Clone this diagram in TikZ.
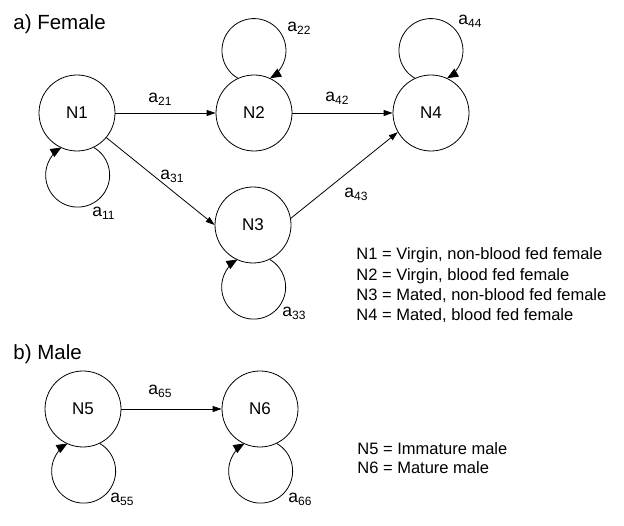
\documentclass[tikz,border=0pt]{standalone}
\usepackage{fontspec}
\setmainfont{Liberation Sans}
\usetikzlibrary{arrows.meta}
\newcommand{\rate}[1]{a\raisebox{-0.3ex}{\fontsize{12}{12}\selectfont #1}}

\tikzset{
    state/.style={draw,circle,minimum size=76pt,inner sep=0pt,font=\fontsize{17}{17}\selectfont},
    trans/.style={-{Triangle[length=9pt,width=6pt]}},
    selfloop/.style={-{Triangle[length=11pt,width=9pt]}},
    ratelabel/.style={anchor=base west,inner sep=0pt,font=\fontsize{17.5}{17.5}\selectfont},
    legend/.style={anchor=base west,inner sep=0pt,font=\fontsize{16.5}{16.5}\selectfont},
    heading/.style={anchor=base west,inner sep=0pt,font=\fontsize{20.5}{20.5}\selectfont}
}

\begin{document}
\begin{tikzpicture}[x=1pt,y=1pt,line width=0.8pt]
    \useasboundingbox (0,0) rectangle (624,526);

    % female
    \node [heading] (fem) at (13,496) {a) Female};
    \node [state] (n1) at (77,413) {N1};
    \node [state] (n2) at (254,413) {N2};
    \node [state] (n4) at (431,413) {N4};
    \node [state] (n3) at (253,301) {N3};

    \draw [trans] (n1) -- (n2);
    \draw [trans] (n1.-40) -- (n3.west);
    \draw [trans] (n2) -- (n4);
    \draw [trans] (n3.10) -- (n4.210);

    \draw [selfloop] (n1.-64.8) arc[start angle=59.6, end angle=-239.6, radius=32pt];
    \draw [selfloop] (n3.-64.8) arc[start angle=59.6, end angle=-239.6, radius=32pt];
    \draw [selfloop] (n2.115.2) arc[start angle=239.6, end angle=-59.6, radius=32pt];
    \draw [selfloop] (n4.115.2) arc[start angle=239.6, end angle=-59.6, radius=32pt];

    \node [ratelabel] (r21) at (148,423) {\rate{21}};
    \node [ratelabel] (r31) at (160,346) {\rate{31}};
    \node [ratelabel] (r11) at (92,309) {\rate{11}};
    \node [ratelabel] (r22) at (287,494) {\rate{22}};
    \node [ratelabel] (r44) at (458,501) {\rate{44}};
    \node [ratelabel] (r42) at (325,424) {\rate{42}};
    \node [ratelabel] (r43) at (344,328) {\rate{43}};
    \node [ratelabel] (r33) at (282,209) {\rate{33}};

    \foreach \i/\txt [count=\k] in {1/{Virgin, non-blood fed female},
                                    2/{Virgin, blood fed female},
                                    3/{Mated, non-blood fed female},
                                    4/{Mated, blood fed female}} {
        \node [legend] (leg\i) at (356,{266-20.3*(\k-1)}) {N\i{} = \txt};
    }

    % male
    \node [heading] (mal) at (13,166) {b) Male};
    \node [state] (n5) at (83,117) {N5};
    \node [state] (n6) at (260,117) {N6};

    \draw [trans] (n5) -- (n6);
    \draw [selfloop] (n5.-64.8) arc[start angle=59.6, end angle=-239.6, radius=32pt];
    \draw [selfloop] (n6.-64.8) arc[start angle=59.6, end angle=-239.6, radius=32pt];

    \node [ratelabel] (r65) at (148,131) {\rate{65}};
    \node [ratelabel] (r55) at (110,23) {\rate{55}};
    \node [ratelabel] (r66) at (288,23) {\rate{66}};

    \node [legend] (leg5) at (357,71) {N5 = Immature male};
    \node [legend] (leg6) at (357,52) {N6 = Mature male};
\end{tikzpicture}
\end{document}
